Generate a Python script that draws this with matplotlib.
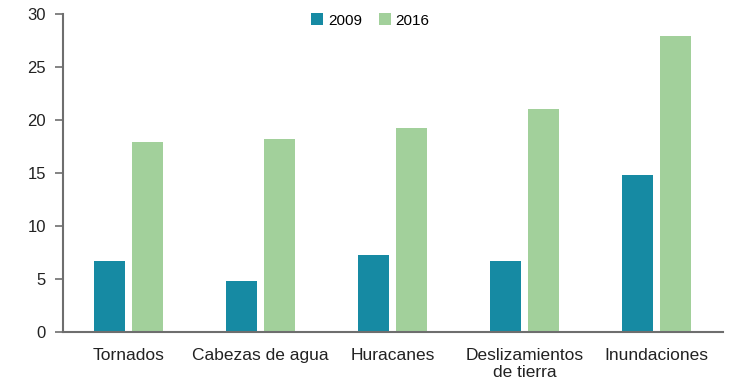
import matplotlib.pyplot as plt
import numpy as np

plt.rcParams['font.family'] = ['Liberation Sans', 'DejaVu Sans']

categories = ['Tornados', 'Cabezas de agua', 'Huracanes', 'Deslizamientos\nde tierra', 'Inundaciones']
values_2009 = [6.7, 4.75, 7.2, 6.7, 14.8]
values_2016 = [17.9, 18.2, 19.2, 21.0, 27.9]
yticks = [0, 5, 10, 15, 20, 25, 30]

color_2009 = '#168aa3'
color_2016 = '#a2d09b'
axis_color = '#6e6e6e'

fig = plt.figure(figsize=(7.37, 3.86), dpi=100)
ax = fig.add_axes([0.085, 0.1407, 0.8956, 0.823])

x = np.arange(len(categories))
width = 0.235
ax.bar(x - 0.145, values_2009, width, color=color_2009, label='2009')
ax.bar(x + 0.145, values_2016, width, color=color_2016, label='2016')

ax.set_xlim(-0.5, 4.5)
ax.set_ylim(0, 30)
ax.set_yticks(yticks)
ax.set_xticks(x)
ax.set_xticklabels(categories, fontsize=12.5, color='#222222', linespacing=1.1)

for side in ['top', 'right']:
    ax.spines[side].set_visible(False)
for side in ['left', 'bottom']:
    ax.spines[side].set_color(axis_color)
    ax.spines[side].set_linewidth(1.5)

ax.tick_params(axis='x', length=0, pad=12)
ax.tick_params(axis='y', length=6, width=1.2, color=axis_color, labelsize=12, labelcolor='#222222', pad=6)

ax.legend(loc='upper center', bbox_to_anchor=(0.466, 1.045), ncol=2, frameon=False,
          fontsize=11, handlelength=0.8, handleheight=0.8, handletextpad=0.3, columnspacing=1.1)

fig.savefig('out.png', dpi=100)
